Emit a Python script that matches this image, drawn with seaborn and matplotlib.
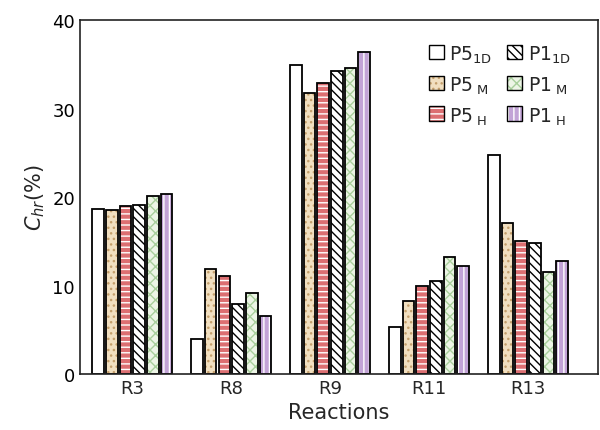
import pandas as pd
import seaborn as sns
import matplotlib.pyplot as plt
from matplotlib.patches import Rectangle
from matplotlib.legend_handler import HandlerPatch

# Data
reactions = ['R3', 'R8', 'R9', 'R11', 'R13']
series = ['P5$_{1D}$', 'P5$_{\\ M}$', 'P5$_{\\ H}$', 'P1$_{1D}$', 'P1$_{\\ M}$', 'P1$_{\\ H}$']
p5_1d = [18.6, 3.9, 34.9, 5.3, 24.7]
p5_m = [18.5, 11.9, 31.8, 8.3, 17.1]
p5_h = [19.0, 11.1, 32.9, 9.9, 15.0]
p1_1d = [19.1, 7.9, 34.2, 10.5, 14.8]
p1_m = [20.1, 9.1, 34.6, 13.2, 11.5]
p1_h = [20.3, 6.5, 36.4, 12.2, 12.8]

# face colour, hatch, hatch colour for each series
faces = ['white', '#f1dfc0', '#dc6f72', 'white', '#edf5e6', '#c2a3d6']
hatches = ['', '...', '---', '\\\\\\\\', 'xxx', '|||']
hatch_cols = ['white', '#c49f6c', 'white', 'black', '#a9cf9c', 'white']

df = pd.DataFrame({
    'reaction': reactions * 6,
    'series': [s for s in series for _ in reactions],
    'value': p5_1d + p5_m + p5_h + p1_1d + p1_m + p1_h,
})

sns.set_style('white')
plt.rcParams['font.family'] = ['DejaVu Sans']
plt.rcParams['mathtext.default'] = 'regular'
plt.rcParams['hatch.linewidth'] = 1.0

fig = plt.figure(figsize=(6, 4.31), dpi=100)
ax = fig.add_axes([0.133, 0.130, 0.864, 0.821])

sns.barplot(data=df, x='reaction', y='value', hue='series', hue_order=series,
            palette=faces, width=0.83, gap=0.15, ax=ax, legend=False)

# seaborn puts patches in hue order; hatch colour follows edgecolor,
# so draw the fill+hatch first and a black outline on top
outlines = []
for i, bar in enumerate(ax.patches[:]):
    k = i // len(reactions)
    bar.set_facecolor(faces[k])
    bar.set_hatch(hatches[k])
    bar.set_edgecolor(hatch_cols[k])
    bar.set_linewidth(0)
    outlines.append(Rectangle((bar.get_x(), bar.get_y()), bar.get_width(), bar.get_height(),
                              fill=False, edgecolor='black', linewidth=1.3))
for r in outlines:
    ax.add_patch(r)


class Boxed(HandlerPatch):
    def create_artists(self, legend, orig, xd, yd, w, h, fs, trans):
        a = Rectangle((xd, yd), w, h, facecolor=orig.get_facecolor(), hatch=orig.get_hatch(),
                      edgecolor=orig.get_edgecolor(), lw=0, transform=trans)
        b = Rectangle((xd, yd), w, h, fill=False, edgecolor='black', lw=1.0, transform=trans)
        return [a, b]


handles = [Rectangle((0, 0), 1, 1, facecolor=faces[k], hatch=hatches[k],
                     edgecolor=hatch_cols[k], lw=0) for k in range(6)]
ax.legend(handles, series, ncol=2, loc='upper right', bbox_to_anchor=(0.98, 0.98),
          frameon=False, fontsize=13.5, handlelength=0.8, handleheight=0.8,
          handletextpad=0.3, columnspacing=0.8, labelspacing=0.5,
          handler_map={Rectangle: Boxed()})

ax.set_xlim(-0.53, 4.71)
ax.set_ylim(0, 40)
ax.set_yticks([0, 10, 20, 30, 40])
ax.set_xlabel('Reactions', fontsize=15)
ax.set_ylabel('$\\mathit{C_{hr}}$(%)', fontsize=15)
ax.tick_params(axis='y', direction='in', length=5, width=1, labelsize=13, colors='black')
ax.tick_params(axis='x', length=0, labelsize=13)
for s in ax.spines.values():
    s.set_color('#222222')
    s.set_linewidth(1.2)

fig.savefig('out.png', dpi=100)
